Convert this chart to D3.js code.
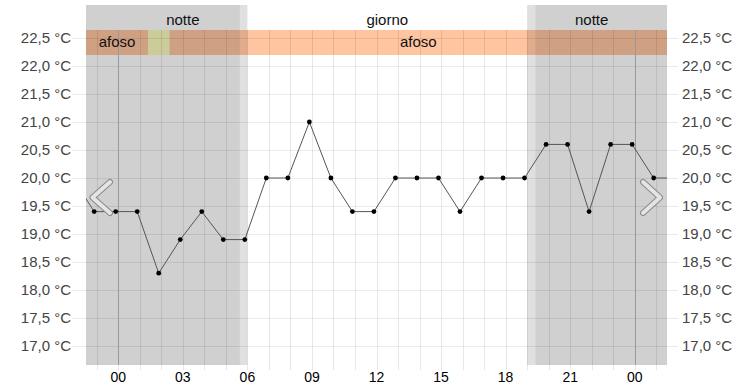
<!DOCTYPE html>
<html>
<head>
<meta charset="utf-8">
<script src="https://cdn.jsdelivr.net/npm/d3@7"></script>
<style>
  body { margin: 0; background: #fff; }
  svg { display: block; font-family: "Liberation Sans", Arial, sans-serif; }
</style>
</head>
<body>
<svg width="753" height="387"></svg>
<script>
// observation times (hours from midnight) and temperatures
const obsHours = [-2.12, -1.12, -0.12, 0.88, 1.88, 2.88, 3.88, 4.88, 5.88, 6.88, 7.88, 8.88, 9.88, 10.88,
  11.88, 12.88, 13.88, 14.88, 15.88, 16.88, 17.88, 18.88, 19.88, 20.88, 21.88, 22.88, 23.88, 24.88, 25.88];
const temps = [20.0, 19.4, 19.4, 19.4, 18.3, 18.9, 19.4, 18.9, 18.9, 20.0, 20.0, 21.0, 20.0, 19.4,
  19.4, 20.0, 20.0, 20.0, 19.4, 20.0, 20.0, 20.0, 20.6, 20.6, 19.4, 20.6, 20.6, 20.0, 20.0];
const comfort = ['afoso', 'afoso', 'afoso', 'afoso', 'confortevole', 'afoso', 'afoso', 'afoso', 'afoso',
  'afoso', 'afoso', 'afoso', 'afoso', 'afoso', 'afoso', 'afoso', 'afoso', 'afoso', 'afoso', 'afoso',
  'afoso', 'afoso', 'afoso', 'afoso', 'afoso', 'afoso', 'afoso', 'afoso', 'afoso'];

// day / night periods
const periodType = ['notte', 'crepuscolo', 'giorno', 'crepuscolo', 'notte'];
const periodFrom = [-4, 5.65, 6.0, 19.0, 19.38];
const periodTo = [5.65, 6.0, 19.0, 19.38, 30];
const periodLabels = ['notte', 'giorno', 'notte'];
const periodLabelAt = [3, 12.5, 22];

const xTicks = [0, 3, 6, 9, 12, 15, 18, 21, 24];
const yTicks = [17.0, 17.5, 18.0, 18.5, 19.0, 19.5, 20.0, 20.5, 21.0, 21.5, 22.0, 22.5];

const comfortColor = { afoso: '#ffc4a0', confortevole: '#fafabc' };
const shade = { notte: 'rgba(0,0,0,0.185)', crepuscolo: 'rgba(0,0,0,0.12)', giorno: 'none' };

const pLeft = 86, pRight = 667, pTop = 5, pBottom = 365;
const bandTop = 30, bandBottom = 55;

const svg = d3.select('svg');
const x = d3.scaleLinear().domain([-1.5, 25.5]).range([pLeft, pRight]);
const y = d3.scaleLinear().domain([16.66, 23.09]).range([pBottom, pTop]);

const it = d3.formatLocale({ decimal: ',', thousands: '.', grouping: [3], currency: ['€', ''] });
const fmt = it.format('.1f');

svg.append('clipPath').attr('id', 'plot')
  .append('rect').attr('x', pLeft).attr('y', pTop).attr('width', pRight - pLeft).attr('height', pBottom - pTop);

// comfort band: one hour around each observation, merged
const segs = [];
obsHours.forEach((h, i) => {
  const last = segs[segs.length - 1];
  if (last && last.type === comfort[i]) last.to = h + 0.5;
  else segs.push({ type: comfort[i], from: h - 0.5, to: h + 0.5 });
});
segs.forEach(s => { s.from = Math.max(s.from, -1.5); s.to = Math.min(s.to, 25.5); });

const band = svg.append('g').attr('clip-path', 'url(#plot)');
band.selectAll('rect').data(segs).enter().append('rect')
  .attr('x', d => x(d.from)).attr('width', d => x(d.to) - x(d.from))
  .attr('y', bandTop).attr('height', bandBottom - bandTop)
  .attr('fill', d => comfortColor[d.type]);

// grid
const grid = svg.append('g');
grid.selectAll('line.h').data(yTicks).enter().append('line')
  .attr('x1', 72).attr('x2', 678)
  .attr('y1', d => Math.round(y(d)) + 0.5).attr('y2', d => Math.round(y(d)) + 0.5)
  .attr('stroke', 'rgba(0,0,0,0.08)');
grid.selectAll('line.v').data(d3.range(-1, 26)).enter().append('line')
  .attr('x1', d => Math.round(x(d)) + 0.5).attr('x2', d => Math.round(x(d)) + 0.5)
  .attr('y1', bandTop).attr('y2', 370)
  .attr('stroke', 'rgba(0,0,0,0.09)');

// night shading
const periods = periodType.map((t, i) => ({ type: t, from: periodFrom[i], to: periodTo[i] }));
svg.append('g').attr('clip-path', 'url(#plot)')
  .selectAll('rect').data(periods.filter(p => p.type !== 'giorno')).enter().append('rect')
  .attr('x', d => x(d.from)).attr('width', d => x(d.to) - x(d.from))
  .attr('y', pTop).attr('height', pBottom - pTop)
  .attr('fill', d => shade[d.type]);

// midnight lines
svg.selectAll('line.mid').data([0, 24]).enter().append('line')
  .attr('x1', d => Math.round(x(d)) + 0.5).attr('x2', d => Math.round(x(d)) + 0.5)
  .attr('y1', bandTop).attr('y2', pBottom)
  .attr('stroke', '#999');

// band labels (only if they fit)
svg.selectAll('text.band').data(segs.filter(s => x(s.to) - x(s.from) > 40)).enter().append('text')
  .attr('x', d => (x(d.from) + x(d.to)) / 2).attr('y', 47)
  .attr('text-anchor', 'middle').attr('font-size', 15).attr('fill', '#111')
  .text(d => d.type);

// period labels
svg.selectAll('text.per').data(periodLabels).enter().append('text')
  .attr('x', (d, i) => x(periodLabelAt[i])).attr('y', 25)
  .attr('text-anchor', 'middle').attr('font-size', 15).attr('fill', '#111')
  .text(d => d);

// temperature line
const pts = obsHours.map((h, i) => ({ h, t: temps[i] }));
const plot = svg.append('g').attr('clip-path', 'url(#plot)');
plot.append('path').datum(pts)
  .attr('d', d3.line().x(d => x(d.h)).y(d => y(d.t)))
  .attr('fill', 'none').attr('stroke', '#555').attr('stroke-width', 1);
plot.selectAll('circle').data(pts).enter().append('circle')
  .attr('cx', d => x(d.h)).attr('cy', d => y(d.t)).attr('r', 2.4)
  .attr('fill', '#000');

// y labels both sides
svg.selectAll('text.yl').data(yTicks).enter().append('text')
  .attr('x', 71).attr('y', d => y(d)).attr('dy', '0.35em')
  .attr('text-anchor', 'end').attr('font-size', 15).attr('fill', '#444')
  .text(d => fmt(d) + ' °C');
svg.selectAll('text.yr').data(yTicks).enter().append('text')
  .attr('x', 682).attr('y', d => y(d)).attr('dy', '0.35em')
  .attr('text-anchor', 'start').attr('font-size', 15).attr('fill', '#444')
  .text(d => fmt(d) + ' °C');

// x labels
svg.selectAll('text.xl').data(xTicks).enter().append('text')
  .attr('x', d => x(d)).attr('y', 382)
  .attr('text-anchor', 'middle').attr('font-size', 14).attr('fill', '#000')
  .text(d => String(d % 24).padStart(2, '0'));

// navigation chevrons
const chevrons = [
  [[110, 182], [92.5, 197.5], [110, 213]],
  [[643, 182], [660, 197.5], [643, 213]]
];
chevrons.forEach(c => {
  svg.append('path').attr('d', d3.line()(c))
    .attr('fill', 'none').attr('stroke', '#8a8a8a').attr('stroke-width', 6)
    .attr('stroke-linecap', 'round').attr('stroke-linejoin', 'round');
  svg.append('path').attr('d', d3.line()(c))
    .attr('fill', 'none').attr('stroke', '#e4e4e4').attr('stroke-width', 4)
    .attr('stroke-linecap', 'round').attr('stroke-linejoin', 'round');
});
</script>
</body>
</html>
